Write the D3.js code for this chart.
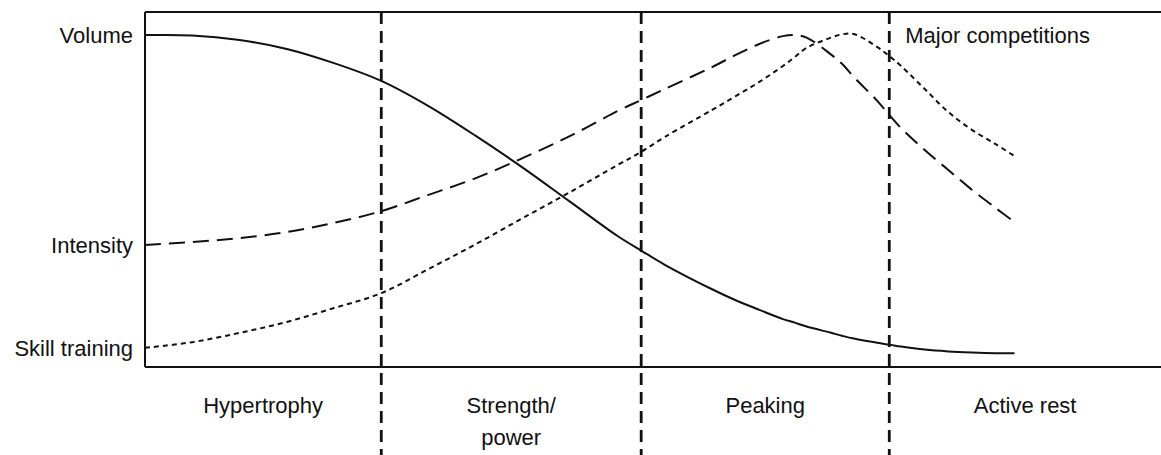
<!DOCTYPE html>
<html>
<head>
<meta charset="utf-8">
<script src="https://cdn.jsdelivr.net/npm/d3@7"></script>
<style>
  body { margin: 0; background: #fff; }
  svg { display: block; }
  text { font-family: "Liberation Sans", Arial, sans-serif; fill: #111; }
</style>
</head>
<body>
<svg id="chart" width="1161" height="455"></svg>
<script>
// time axis in weeks, level axis 0-100
var weeks = [0, 2, 4, 6, 8, 10, 12, 14, 16, 18, 20, 21, 22, 24, 25, 26, 27, 27.5, 28, 29, 29.5, 30, 31, 31.5, 32, 33, 34, 35, 36, 36.8]
var volume = [93.5, 93.4, 92.1, 89.6, 85.6, 80.6, 73.5, 65.1, 56.1, 46.5, 36.9, 32.8, 28.8, 21.9, 18.8, 16.1, 13.5, 12.5, 11.4, 9.7, 8.8, 8.0, 6.8, 6.3, 5.75, 4.9, 4.4, 4.1, 3.9, 3.85]
var intensity = [34.4, 35.2, 36.3, 38.0, 40.6, 43.9, 48.5, 53.2, 58.9, 65.1, 72.1, 75.2, 78.3, 84.5, 87.9, 91.0, 93.2, 93.5, 92.8, 88.2, 85.4, 81.7, 74.9, 71.0, 67.3, 61.1, 55.5, 49.9, 44.8, 40.8]
var skill = [5.4, 7.0, 9.6, 12.7, 16.6, 20.8, 27.6, 34.6, 42.0, 49.3, 56.9, 60.6, 64.8, 72.4, 76.3, 80.3, 84.8, 87.3, 89.9, 92.7, 93.7, 93.8, 90.1, 87.6, 84.8, 78.3, 71.8, 66.8, 62.8, 59.4]

var levelNames = ['Volume', 'Intensity', 'Skill training']
var levelValues = [93.5, 34.4, 5.4]

var phaseEdges = [0, 10, 21, 31.5, 43]
var phaseNames = [['Hypertrophy'], ['Strength/', 'power'], ['Peaking'], ['Active rest']]

var svg = d3.select('#chart')
var x = d3.scaleLinear().domain([0, 43]).range([145, 1161])
var y = d3.scaleLinear().domain([0, 100]).range([367, 12])

// frame: left axis, top and bottom rules
svg.append('line')
  .attr('x1', x(0)).attr('x2', x(0))
  .attr('y1', y(100)).attr('y2', y(0))
  .attr('stroke', '#111').attr('stroke-width', 2)
svg.selectAll('line.rule')
  .data([0, 100])
  .enter().append('line')
  .attr('class', 'rule')
  .attr('x1', x(0)).attr('x2', x(43))
  .attr('y1', function (d) { return y(d) })
  .attr('y2', function (d) { return y(d) })
  .attr('stroke', '#111').attr('stroke-width', 2)

// phase dividers
svg.selectAll('line.phase')
  .data(phaseEdges.slice(1, 4))
  .enter().append('line')
  .attr('class', 'phase')
  .attr('x1', function (d) { return x(d) })
  .attr('x2', function (d) { return x(d) })
  .attr('y1', y(100)).attr('y2', 455)
  .attr('stroke', '#111')
  .attr('stroke-width', 2.8)
  .attr('stroke-dasharray', '12, 7')

// level labels
svg.selectAll('text.level')
  .data(levelNames)
  .enter().append('text')
  .attr('class', 'level')
  .attr('x', x(0) - 12)
  .attr('y', function (d, i) { return y(levelValues[i]) })
  .attr('dy', '0.35em')
  .attr('text-anchor', 'end')
  .attr('font-size', '22px')
  .text(function (d) { return d })

// phase labels
var labels = svg.selectAll('text.phase')
  .data(phaseNames)
  .enter().append('text')
  .attr('class', 'phase')
  .attr('text-anchor', 'middle')
  .attr('font-size', '22px')
  .attr('x', function (d, i) { return x((phaseEdges[i] + phaseEdges[i + 1]) / 2) })
  .attr('y', 405)
labels.selectAll('tspan')
  .data(function (d) { return d })
  .enter().append('tspan')
  .attr('x', function () { return d3.select(this.parentNode).attr('x') })
  .attr('y', function (d, i) { return 405 + i * 32 })
  .attr('dy', '0.35em')
  .text(function (d) { return d })

svg.append('text')
  .attr('x', x(31.5) + 16)
  .attr('y', y(93.5))
  .attr('dy', '0.35em')
  .attr('font-size', '22px')
  .text('Major competitions')

// curves
var line = d3.line()
  .x(function (d, i) { return x(weeks[i]) })
  .y(function (d) { return y(d) })
  .curve(d3.curveCatmullRom.alpha(0.5))

var series = [
  { values: volume, dash: null },
  { values: intensity, dash: '16, 8' },
  { values: skill, dash: '5, 4' }
]
svg.selectAll('path.curve')
  .data(series)
  .enter().append('path')
  .attr('class', 'curve')
  .attr('d', function (d) { return line(d.values) })
  .attr('fill', 'none')
  .attr('stroke', '#111')
  .attr('stroke-width', 2)
  .attr('stroke-dasharray', function (d) { return d.dash })
</script>
</body>
</html>
